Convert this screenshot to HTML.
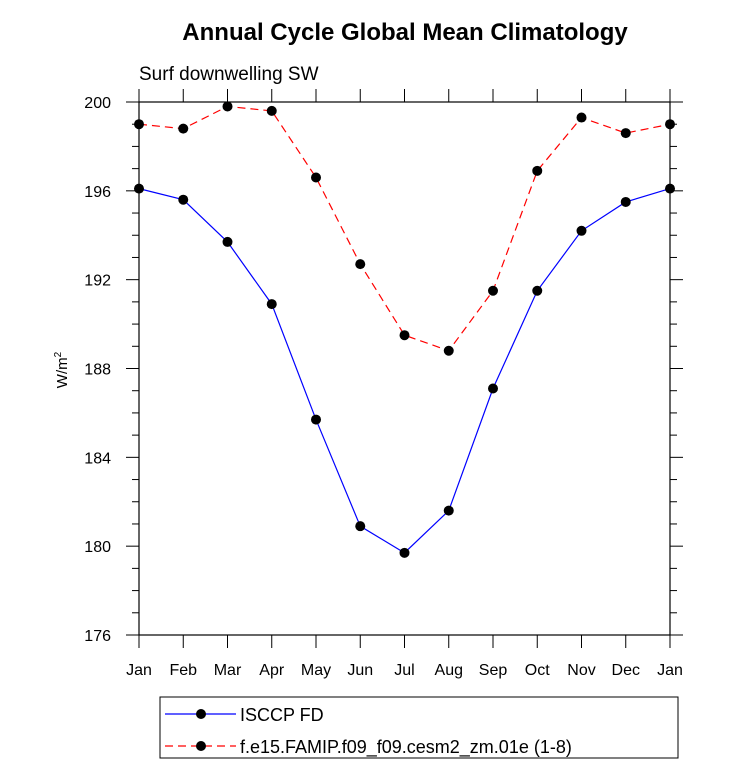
<!DOCTYPE html>
<html><head><meta charset="utf-8"><style>
body{margin:0;background:#fff;}
svg{display:block;font-family:"Liberation Sans",Arial,sans-serif;}
</style></head><body>
<svg id="chart" width="733" height="773">
<text x="405" y="40" text-anchor="middle" font-size="24" font-weight="bold">Annual Cycle Global Mean Climatology</text>
<text x="139" y="80" font-size="19">Surf downwelling SW</text>
<text transform="translate(67,370) rotate(-90)" text-anchor="middle" font-size="15">W/m<tspan font-size="10" dy="-6">2</tspan></text>
<g id="axes"></g>
<g id="series"></g>
<g id="legend">
<rect x="160" y="697" width="518" height="61" fill="none" stroke="#000" stroke-width="1"/>
<g>
<line x1="165" y1="714" x2="236" y2="714" stroke="#0000ff" stroke-width="1.2"/>
<circle cx="201" cy="714" r="5" fill="#000"/>
<text x="240" y="721" font-size="18">ISCCP FD</text></g>
<g>
<line x1="165" y1="746" x2="236" y2="746" stroke="#ff0000" stroke-width="1.2" stroke-dasharray="8,5"/>
<circle cx="201" cy="746" r="5" fill="#000"/>
<text x="240" y="753" font-size="18">f.e15.FAMIP.f09_f09.cesm2_zm.01e (1-8)</text></g>
</g>
</svg>
<script>
const months=["Jan","Feb","Mar","Apr","May","Jun","Jul","Aug","Sep","Oct","Nov","Dec","Jan"];
const isccp=[196.1,195.6,193.7,190.9,185.7,180.9,179.7,181.6,187.1,191.5,194.2,195.5,196.1];
const model=[199.0,198.8,199.8,199.6,196.6,192.7,189.5,188.8,191.5,196.9,199.3,198.6,199.0];
const yTicks=[176,180,184,188,192,196,200];
const X0=139,X1=670,Y0=635,Y1=102,YMIN=176,YMAX=200;
const xs=i=>X0+(X1-X0)*i/(months.length-1);
const ys=v=>Y0-(v-YMIN)/(YMAX-YMIN)*(Y0-Y1);
const NS="http://www.w3.org/2000/svg";
function mk(t,a,p){const e=document.createElementNS(NS,t);for(const k in a)e.setAttribute(k,a[k]);p.appendChild(e);return e;}
const ax=document.getElementById('axes');
const fr=mk('rect',{x:X0,y:Y1,width:X1-X0,height:Y0-Y1,fill:'none',stroke:'#000','stroke-width':1.2},ax);


for(let v=YMIN;v<=YMAX;v++){const y=ys(v);const L=(v%4===0)?13:7;
mk('line',{x1:X0,y1:y,x2:X0-L,y2:y,stroke:'#000'},ax);
mk('line',{x1:X1,y1:y,x2:X1+L,y2:y,stroke:'#000'},ax);}
yTicks.forEach(v=>{const t=mk('text',{x:X0-28,y:ys(v)+6,'text-anchor':'end','font-size':16},ax);t.textContent=v;

});
months.forEach((m,i)=>{const x=xs(i);
mk('line',{x1:x,y1:Y0,x2:x,y2:Y0+13,stroke:'#000'},ax);
mk('line',{x1:x,y1:Y1,x2:x,y2:Y1-13,stroke:'#000'},ax);
const t=mk('text',{x:x,y:Y0+40,'text-anchor':'middle','font-size':16},ax);t.textContent=m;

});
const sg=document.getElementById('series');
function series(vals,color,dash,name){
const g=mk('g',{},sg);


mk('polyline',{points:vals.map((v,i)=>xs(i)+','+ys(v)).join(' '),fill:'none',stroke:color,'stroke-width':1.2,'stroke-dasharray':dash},g);
vals.forEach((v,i)=>{const c=mk('circle',{cx:xs(i),cy:ys(v),r:5,fill:'#000'},g);

});}
series(isccp,'#0000ff','none','series-isccp');
series(model,'#ff0000','8,5','series-model');
</script>
</body></html>
